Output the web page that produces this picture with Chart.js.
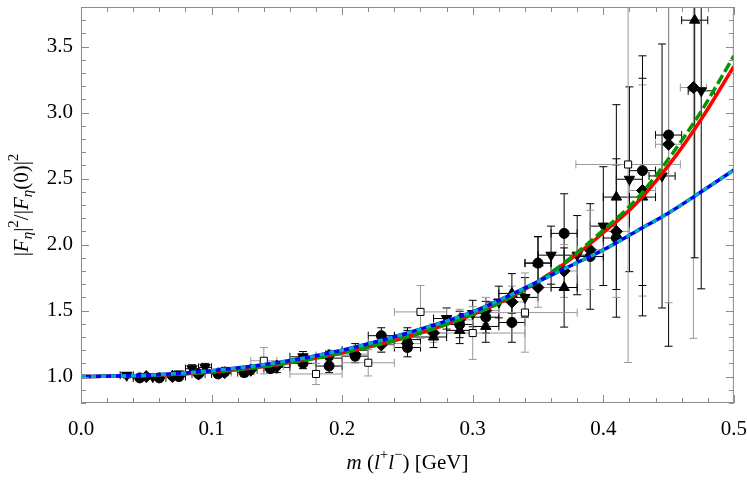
<!DOCTYPE html>
<html>
<head>
<meta charset="utf-8">
<script src="https://cdn.jsdelivr.net/npm/chart.js@4.4.1/dist/chart.umd.min.js"></script>
<style>
  html, body { margin: 0; padding: 0; background: #fff; }
  #wrap { width: 747px; height: 486px; }
</style>
</head>
<body>
<div id="wrap"><canvas id="formChart"></canvas></div>
<script>
// model curves
var curveX    = [0, 0.05, 0.1, 0.15, 0.2, 0.25, 0.3, 0.325, 0.35, 0.375, 0.4, 0.425, 0.45, 0.475, 0.5];
var redCurve  = [1.0, 1.008, 1.035, 1.09, 1.18, 1.30, 1.47, 1.58, 1.72, 1.89, 2.09, 2.31, 2.60, 2.95, 3.35];
var greenCurve= [1.0, 1.008, 1.035, 1.09, 1.18, 1.30, 1.47, 1.58, 1.72, 1.90, 2.11, 2.34, 2.65, 3.01, 3.43];
var blueCurve = [1.0, 1.010, 1.045, 1.105, 1.20, 1.33, 1.49, 1.60, 1.72, 1.84, 1.96, 2.10, 2.24, 2.40, 2.565];

// data points (x, y, y error, x error)
var circX    = [0.045, 0.06, 0.075, 0.09, 0.105, 0.125, 0.145, 0.17, 0.19, 0.21, 0.23, 0.25, 0.29, 0.31, 0.33, 0.35, 0.37, 0.39, 0.41, 0.43, 0.45];
var circY    = [0.99, 0.99, 1.00, 1.02, 1.02, 1.03, 1.06, 1.10, 1.08, 1.155, 1.31, 1.22, 1.395, 1.45, 1.41, 1.86, 2.085, 1.91, 2.05, 2.56, 2.83];
var circYErr = [0.02, 0.02, 0.02, 0.02, 0.025, 0.03, 0.03, 0.04, 0.05, 0.05, 0.06, 0.07, 0.1, 0.12, 0.15, 0.2, 0.3, 0.4, 0.6, 0.87, 1.6];
var circXErr = [0.005, 0.005, 0.005, 0.005, 0.005, 0.005, 0.005, 0.01, 0.01, 0.01, 0.01, 0.01, 0.01, 0.01, 0.01, 0.01, 0.01, 0.01, 0.01, 0.01, 0.01];

var downX    = [0.035, 0.055, 0.075, 0.085, 0.095, 0.11, 0.13, 0.15, 0.17, 0.19, 0.21, 0.23, 0.25, 0.28, 0.30, 0.32, 0.34, 0.36, 0.38, 0.40, 0.42, 0.445, 0.475];
var downY    = [1.01, 1.00, 1.02, 1.06, 1.07, 1.04, 1.05, 1.07, 1.15, 1.14, 1.20, 1.245, 1.30, 1.44, 1.478, 1.565, 1.60, 1.92, 1.92, 2.14, 2.495, 2.52, 3.165];
var downYErr = [0.02, 0.02, 0.02, 0.03, 0.03, 0.03, 0.03, 0.04, 0.04, 0.05, 0.05, 0.06, 0.07, 0.08, 0.1, 0.12, 0.15, 0.22, 0.3, 0.45, 0.7, 1.0, 1.5];
var downXErr = [0.005, 0.005, 0.005, 0.005, 0.005, 0.005, 0.005, 0.01, 0.01, 0.01, 0.01, 0.01, 0.01, 0.01, 0.01, 0.01, 0.01, 0.01, 0.01, 0.01, 0.01, 0.01, 0.01];

var diamX    = [0.05, 0.07, 0.09, 0.11, 0.13, 0.15, 0.17, 0.19, 0.21, 0.23, 0.25, 0.27, 0.29, 0.31, 0.33, 0.35, 0.37, 0.39, 0.41, 0.43, 0.45, 0.469];
var diamY    = [1.00, 1.00, 1.02, 1.03, 1.05, 1.08, 1.13, 1.16, 1.17, 1.24, 1.25, 1.33, 1.43, 1.50, 1.565, 1.675, 1.80, 1.96, 2.10, 2.41, 2.76, 3.19];
var diamYErr = [0.02, 0.02, 0.02, 0.025, 0.03, 0.03, 0.04, 0.04, 0.05, 0.05, 0.06, 0.07, 0.08, 0.1, 0.12, 0.15, 0.2, 0.3, 0.5, 0.8, 1.2, 1.9];
var diamXErr = [0.005, 0.005, 0.005, 0.005, 0.005, 0.005, 0.01, 0.01, 0.01, 0.01, 0.01, 0.01, 0.01, 0.01, 0.01, 0.01, 0.01, 0.01, 0.01, 0.01, 0.01, 0.01];

var upX      = [0.25, 0.27, 0.29, 0.31, 0.33, 0.35, 0.37, 0.41, 0.43, 0.47];
var upY      = [1.28, 1.30, 1.35, 1.38, 1.63, 1.86, 1.675, 2.36, 2.36, 3.70];
var upYErr   = [0.07, 0.08, 0.1, 0.12, 0.15, 0.2, 0.3, 0.7, 0.9, 1.8];
var upXErr   = [0.01, 0.01, 0.01, 0.01, 0.01, 0.01, 0.01, 0.01, 0.01, 0.01];

var sqX      = [0.14, 0.18, 0.22, 0.26, 0.30, 0.34, 0.419];
var sqY      = [1.12, 1.02, 1.105, 1.49, 1.33, 1.485, 2.607];
var sqYErr   = [0.1, 0.08, 0.1, 0.2, 0.2, 0.3, 1.5];
var sqXErr   = [0.01, 0.02, 0.02, 0.02, 0.04, 0.04, 0.04];

var xTicks = [0.0, 0.1, 0.2, 0.3, 0.4, 0.5];
var yTicks = [1.0, 1.5, 2.0, 2.5, 3.0, 3.5];

function pts(xs, ys) {
    return xs.map(function(x, i) { return {x: x, y: ys[i]}; });
}

function pointSet(label, xs, ys, yErr, xErr, style, opts) {
    var ds = {
        type: 'scatter',
        label: label,
        data: pts(xs, ys),
        yErr: yErr,
        xErr: xErr,
        barColor: opts.barColor,
        pointStyle: style,
        pointRadius: opts.radius,
        pointRotation: opts.rotation || 0,
        backgroundColor: opts.fill,
        borderColor: '#000',
        borderWidth: 1,
        order: 10
    };
    return ds;
}

function curveSet(label, ys, color, width, dash, order) {
    return {
        type: 'line',
        label: label,
        data: pts(curveX, ys),
        borderColor: color,
        borderWidth: width,
        borderDash: dash,
        pointRadius: 0,
        cubicInterpolationMode: 'monotone',
        fill: false,
        order: order
    };
}

// error bars, drawn under the markers
var errorBars = {
    id: 'errorBars',
    beforeDatasetsDraw: function(chart) {
        var ctx = chart.ctx, xs = chart.scales.x, ys = chart.scales.y;
        var area = chart.chartArea;
        ctx.save();
        ctx.beginPath();
        ctx.rect(area.left, area.top, area.right - area.left, area.bottom - area.top);
        ctx.clip();
        ctx.lineWidth = 1;
        chart.data.datasets.forEach(function(ds) {
            if (!ds.yErr) return;
            ctx.strokeStyle = ds.barColor;
            ds.data.forEach(function(p, i) {
                var px = xs.getPixelForValue(p.x), py = ys.getPixelForValue(p.y);
                var y1 = ys.getPixelForValue(p.y - ds.yErr[i]), y2 = ys.getPixelForValue(p.y + ds.yErr[i]);
                var x1 = xs.getPixelForValue(p.x - ds.xErr[i]), x2 = xs.getPixelForValue(p.x + ds.xErr[i]);
                ctx.beginPath();
                ctx.moveTo(px, y1); ctx.lineTo(px, y2);
                ctx.moveTo(px - 4, y1); ctx.lineTo(px + 4, y1);
                ctx.moveTo(px - 4, y2); ctx.lineTo(px + 4, y2);
                ctx.moveTo(x1, py); ctx.lineTo(x2, py);
                ctx.moveTo(x1, py - 4); ctx.lineTo(x1, py + 4);
                ctx.moveTo(x2, py - 4); ctx.lineTo(x2, py + 4);
                ctx.stroke();
            });
        });
        ctx.restore();
    }
};

// Mathematica style frame with inward ticks
var frameTicks = {
    id: 'frameTicks',
    afterDraw: function(chart) {
        var ctx = chart.ctx, xs = chart.scales.x, ys = chart.scales.y;
        var a = chart.chartArea;
        ctx.save();
        ctx.strokeStyle = '#8c8c8c';
        ctx.lineWidth = 1;
        ctx.strokeRect(a.left + 0.5, a.top + 0.5, a.right - a.left - 1, a.bottom - a.top - 1);
        ctx.beginPath();
        var i, v, p, len;
        for (i = 0; i <= 25; i++) {
            v = i * 0.02;
            p = Math.round(xs.getPixelForValue(v)) + 0.5;
            len = (i % 5 === 0) ? 8 : 5;
            ctx.moveTo(p, a.bottom); ctx.lineTo(p, a.bottom - len);
            ctx.moveTo(p, a.top); ctx.lineTo(p, a.top + len);
        }
        for (i = 8; i <= 38; i++) {
            v = i * 0.1;
            p = Math.round(ys.getPixelForValue(v)) + 0.5;
            len = (i % 5 === 0) ? 8 : 5;
            ctx.moveTo(a.left, p); ctx.lineTo(a.left + len, p);
            ctx.moveTo(a.right, p); ctx.lineTo(a.right - len, p);
        }
        ctx.stroke();
        ctx.restore();
    }
};

// axis titles with italic / sub / superscript pieces
function drawRuns(ctx, runs, size) {
    var fonts = {
        n: size + 'px "Liberation Serif"',
        i: 'italic ' + size + 'px "Liberation Serif"',
        sub: 'italic ' + Math.round(size * 0.7) + 'px "Liberation Serif"',
        sup: Math.round(size * 0.7) + 'px "Liberation Serif"'
    };
    var total = 0;
    runs.forEach(function(r) { ctx.font = fonts[r[1]]; total += ctx.measureText(r[0]).width; });
    var x = -total / 2;
    runs.forEach(function(r) {
        ctx.font = fonts[r[1]];
        var dy = r[1] === 'sub' ? size * 0.3 : (r[1] === 'sup' ? -size * 0.38 : 0);
        ctx.fillText(r[0], x, dy);
        x += ctx.measureText(r[0]).width;
    });
}

var axisTitles = {
    id: 'axisTitles',
    afterDraw: function(chart) {
        var ctx = chart.ctx, a = chart.chartArea;
        ctx.save();
        ctx.fillStyle = '#000';
        ctx.textBaseline = 'middle';
        ctx.textAlign = 'left';
        ctx.translate((a.left + a.right) / 2, 463);
        drawRuns(ctx, [['m', 'i'], [' (', 'n'], ['l', 'i'], ['+', 'sup'], ['l', 'i'], ['\u2212', 'sup'], [') [GeV]', 'n']], 21);
        ctx.restore();

        ctx.save();
        ctx.fillStyle = '#000';
        ctx.textBaseline = 'middle';
        ctx.textAlign = 'left';
        ctx.translate(22, (a.top + a.bottom) / 2);
        ctx.rotate(-Math.PI / 2);
        drawRuns(ctx, [['|', 'n'], ['F', 'i'], ['\u03B7', 'sub'], ['|', 'n'], ['2', 'sup'], ['/|', 'n'], ['F', 'i'], ['\u03B7', 'sub'], ['(0)|', 'n'], ['2', 'sup']], 21);
        ctx.restore();
    }
};

var ctx = document.getElementById('formChart').getContext('2d');
var formChart = new Chart(ctx, {
    data: {
        datasets: [
            curveSet('cyan', blueCurve, '#00b0b0', 3.5, [5, 5], 0),
            curveSet('blue', blueCurve, '#0000ff', 3.5, [], 1),
            curveSet('green', greenCurve, '#009900', 3.5, [10, 4], 2),
            curveSet('red', redCurve, '#ff0000', 3.5, [], 3),
            pointSet('circles', circX, circY, circYErr, circXErr, 'circle', {radius: 5, fill: '#000', barColor: '#000'}),
            pointSet('down', downX, downY, downYErr, downXErr, 'triangle', {radius: 6, fill: '#000', barColor: '#000', rotation: 180}),
            pointSet('diamonds', diamX, diamY, diamYErr, diamXErr, 'rectRot', {radius: 6, fill: '#000', barColor: '#999'}),
            pointSet('up', upX, upY, upYErr, upXErr, 'triangle', {radius: 6, fill: '#000', barColor: '#000'}),
            pointSet('squares', sqX, sqY, sqYErr, sqXErr, 'rect', {radius: 5, fill: '#fff', barColor: '#999'})
        ]
    },
    options: {
        responsive: true,
        maintainAspectRatio: false,
        animation: false,
        layout: { padding: { top: 0, left: 0, bottom: 0, right: 2 } },
        plugins: {
            legend: { display: false },
            tooltip: { enabled: false }
        },
        scales: {
            x: {
                type: 'linear',
                min: 0,
                max: 0.5,
                border: { display: false },
                grid: { display: false, drawTicks: true, tickLength: 14 },
                afterBuildTicks: function(s) { s.ticks = xTicks.map(function(v) { return {value: v}; }); },
                afterFit: function(s) { s.height = 83; },
                ticks: {
                    padding: 0,
                    color: '#000',
                    font: { family: 'Liberation Serif', size: 21 },
                    maxRotation: 0,
                    callback: function(v) { return Number(v).toFixed(1); }
                }
            },
            y: {
                type: 'linear',
                min: 0.8,
                max: 3.8,
                border: { display: false },
                grid: { display: false, drawTicks: true, tickLength: 8 },
                afterBuildTicks: function(s) { s.ticks = yTicks.map(function(v) { return {value: v}; }); },
                afterFit: function(s) { s.width = 81; },
                ticks: {
                    padding: 0,
                    color: '#000',
                    font: { family: 'Liberation Serif', size: 21, lineHeight: 0.05 },
                    callback: function(v) { return Number(v).toFixed(1); }
                }
            }
        }
    },
    plugins: [errorBars, frameTicks, axisTitles]
});
</script>
</body>
</html>
